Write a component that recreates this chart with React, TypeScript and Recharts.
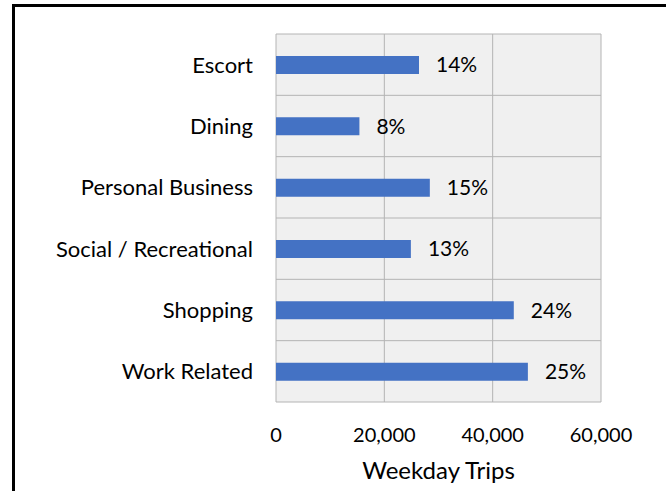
import React from 'react';
import { BarChart, Bar, XAxis, YAxis, CartesianGrid, LabelList } from 'recharts';

const categories = ['Escort', 'Dining', 'Personal Business', 'Social / Recreational', 'Shopping', 'Work Related'];
const trips = [26400, 15400, 28400, 24900, 43900, 46500];
const shares = ['14%', '8%', '15%', '13%', '24%', '25%'];
const xTicks = [0, 20000, 40000, 60000];

const data = categories.map((name, i) => ({ name, trips: trips[i], share: shares[i] }));

const FONT = 'Lato, "Open Sans", sans-serif';

const XTick = (props: any) => {
  const { x, y, payload } = props;
  return (
    <text x={x} y={y + 40} textAnchor="middle" fontFamily={FONT} fontSize={20} fill="#000">
      {Number(payload.value).toLocaleString('en-US')}
    </text>
  );
};

const YTick = (props: any) => {
  const { x, y, payload } = props;
  return (
    <text x={x} y={y + 8} textAnchor="end" fontFamily={FONT} fontSize={22} fill="#000">
      {payload.value}
    </text>
  );
};

export default function App() {
  return (
    <div style={{ position: 'absolute', left: 0, top: 0, width: 666, height: 491, overflow: 'hidden', background: '#fff' }}>
      <div style={{ position: 'absolute', left: 12, top: 4, width: 800, height: 800, borderTop: '3px solid #000', borderLeft: '3px solid #000' }} />
      <div style={{ position: 'absolute', left: 0, top: 0 }}>
        <BarChart
          width={666}
          height={491}
          data={data}
          layout="vertical"
          margin={{ top: 34, right: 65, left: 0, bottom: 0 }}
          barCategoryGap={0}
        >
          <CartesianGrid
            fill="#f0f0f0"
            stroke="#b4b4b4"
            strokeWidth={1}
            horizontalCoordinatesGenerator={({ offset }: any) =>
              Array.from({ length: categories.length + 1 }, (_, i) => offset.top + (i * offset.height) / categories.length)
            }
          />
          <XAxis
            type="number"
            domain={[0, 60000]}
            ticks={xTicks}
            interval={0}
            axisLine={false}
            tickLine={false}
            tickSize={0}
            tickMargin={0}
            height={89}
            tick={<XTick />}
            label={{ value: 'Weekday Trips', position: 'insideBottom', offset: 12, fontFamily: FONT, fontSize: 24, fill: '#000' }}
          />
          <YAxis
            type="category"
            dataKey="name"
            width={276}
            axisLine={false}
            tickLine={false}
            tickSize={0}
            tickMargin={0}
            interval={0}
            tick={(p: any) => <YTick {...p} x={p.x - 23} />}
          />
          <Bar dataKey="trips" fill="#4472C4" barSize={18} isAnimationActive={false}>
            <LabelList dataKey="share" position="right" offset={17} fontFamily={FONT} fontSize={21} fill="#000" />
          </Bar>
        </BarChart>
      </div>
    </div>
  );
}
